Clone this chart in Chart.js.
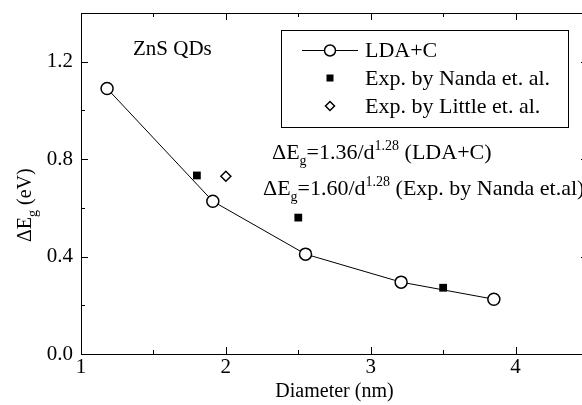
<!DOCTYPE html>
<html>
<head>
<meta charset="utf-8">
<script src="https://cdn.jsdelivr.net/npm/chart.js@4.4.0/dist/chart.umd.min.js"></script>
<style>
  html, body { margin: 0; padding: 0; background: #fff; overflow: hidden; }
  #wrap { width: 582px; height: 405px; overflow: hidden; position: relative; }
  #pre { position: absolute; left: -1000px; top: 0; font-family: "Liberation Serif"; font-size: 20px; }
</style>
</head>
<body>
<div id="pre">ΔE Diameter 1.2</div>
<div id="wrap"><canvas id="c" width="600" height="405" style="width:600px;height:405px"></canvas></div>
<script>
// datos
const ldaDiam = [1.18, 1.91, 2.55, 3.21, 3.85];
const ldaGap = [1.09, 0.627, 0.41, 0.295, 0.225];
const nandaDiam = [1.8, 2.5, 3.5];
const nandaGap = [0.733, 0.56, 0.272];
const littleDiam = [2.0];
const littleGap = [0.73];
const xTicks = [1, 1.5, 2, 2.5, 3, 3.5, 4, 4.5];
const yTicks = [0, 0.2, 0.4, 0.6, 0.8, 1.0, 1.2, 1.4];
const legendLabels = ['LDA+C', 'Exp. by Nanda et. al.', 'Exp. by Little et. al.'];

const serif = '"Liberation Serif", "Times New Roman", serif';
const pts = (xs, ys) => xs.map((x, i) => ({ x: x, y: ys[i] }));

// texto con subindices / superindices
function richText(ctx, x, y, parts, size) {
    let cx = x;
    parts.forEach(p => {
        let s = size, dy = 0;
        if (p.sub) { s = 14; dy = 6; }
        if (p.sup) { s = 14; dy = -9; }
        ctx.font = s + 'px ' + serif;
        ctx.fillText(p.t, cx, y + dy);
        cx += ctx.measureText(p.t).width;
    });
    return cx - x;
}

const decor = {
    id: 'decor',
    afterDraw(chart) {
        const ctx = chart.ctx;
        const a = chart.chartArea;
        const xs = chart.scales.x, ys = chart.scales.y;
        ctx.save();
        ctx.strokeStyle = '#000';
        ctx.fillStyle = '#000';
        ctx.lineWidth = 1;

        // marco superior y derecho
        ctx.beginPath();
        ctx.moveTo(Math.round(a.left) + 0.5, Math.round(a.top) + 0.5);
        ctx.lineTo(Math.round(a.right) + 0.5, Math.round(a.top) + 0.5);
        ctx.lineTo(Math.round(a.right) + 0.5, Math.round(a.bottom) + 0.5);
        ctx.stroke();

        // ticks hacia adentro
        ctx.beginPath();
        xTicks.forEach(v => {
            const px = Math.round(xs.getPixelForValue(v)) + 0.5;
            const len = Number.isInteger(v) ? 7 : 4;
            ctx.moveTo(px, a.bottom); ctx.lineTo(px, a.bottom - len);
            ctx.moveTo(px, a.top); ctx.lineTo(px, a.top + len);
        });
        yTicks.forEach(v => {
            const py = Math.round(ys.getPixelForValue(v)) + 0.5;
            const len = Math.round(v * 10) % 4 === 0 ? 7 : 4;
            ctx.moveTo(a.left, py); ctx.lineTo(a.left + len, py);
            ctx.moveTo(a.right, py); ctx.lineTo(a.right - len, py);
        });
        ctx.stroke();

        // leyenda
        ctx.strokeRect(281.5, 30.5, 287, 97);
        const rows = [50, 78, 106];
        const ix = 330;
        ctx.beginPath();
        ctx.moveTo(302, rows[0] + 0.5); ctx.lineTo(358, rows[0] + 0.5);
        ctx.stroke();
        ctx.beginPath();
        ctx.fillStyle = '#fff';
        ctx.arc(ix, rows[0] + 0.5, 5.5, 0, Math.PI * 2);
        ctx.fill();
        ctx.lineWidth = 1.5;
        ctx.stroke();
        ctx.fillStyle = '#000';
        ctx.fillRect(ix - 3.5, rows[1] - 3.5, 7, 7);
        ctx.beginPath();
        ctx.moveTo(ix, rows[2] - 4.5); ctx.lineTo(ix + 4.5, rows[2]);
        ctx.lineTo(ix, rows[2] + 4.5); ctx.lineTo(ix - 4.5, rows[2]);
        ctx.closePath();
        ctx.stroke();
        ctx.lineWidth = 1;

        ctx.textBaseline = 'alphabetic';
        ctx.textAlign = 'left';
        ctx.font = '22px ' + serif;
        legendLabels.forEach((t, i) => ctx.fillText(t, 365, rows[i] + 7));

        // etiquetas
        ctx.font = '21px ' + serif;
        ctx.fillText('ZnS QDs', 133, 55);
        richText(ctx, 272, 159, [{ t: 'ΔE' }, { t: 'g', sub: true }, { t: '=1.36/d' }, { t: '1.28', sup: true }, { t: ' (LDA+C)' }], 22);
        richText(ctx, 263, 195, [{ t: 'ΔE' }, { t: 'g', sub: true }, { t: '=1.60/d' }, { t: '1.28', sup: true }, { t: ' (Exp. by Nanda et.al)' }], 22);

        // titulos de ejes
        ctx.font = '20px ' + serif;
        ctx.textAlign = 'center';
        ctx.fillText('Diameter (nm)', (a.left + a.right) / 2, 397);
        ctx.textAlign = 'left';
        ctx.save();
        ctx.translate(31, 242);
        ctx.rotate(-Math.PI / 2);
        richText(ctx, 0, 0, [{ t: 'ΔE' }, { t: 'g', sub: true }, { t: ' (eV)' }], 20);
        ctx.restore();

        ctx.restore();
    }
};

function draw() {
    new Chart(document.getElementById('c'), {
        type: 'scatter',
        data: {
            datasets: [{
                label: legendLabels[0],
                data: pts(ldaDiam, ldaGap),
                showLine: true,
                borderColor: '#000',
                borderWidth: 1,
                pointStyle: 'circle',
                pointRadius: 6,
                pointBorderWidth: 1.5,
                pointBackgroundColor: '#fff',
                pointBorderColor: '#000',
                tension: 0
            }, {
                label: legendLabels[1],
                data: pts(nandaDiam, nandaGap),
                pointStyle: 'rect',
                pointRadius: 5.5,
                pointBorderWidth: 0,
                pointBackgroundColor: '#000',
                pointBorderColor: '#000'
            }, {
                label: legendLabels[2],
                data: pts(littleDiam, littleGap),
                pointStyle: 'rectRot',
                pointRadius: 5,
                pointBorderWidth: 1.5,
                pointBackgroundColor: '#fff',
                pointBorderColor: '#000'
            }]
        },
        options: {
            responsive: false,
            animation: false,
            layout: { padding: { top: 13, right: 12, left: 0, bottom: 0 } },
            plugins: { legend: { display: false }, tooltip: { enabled: false } },
            scales: {
                x: {
                    type: 'linear',
                    min: 1, max: 4.5,
                    afterFit: s => { s.height = 51; s.paddingLeft = 0; s.paddingRight = 0; },
                    grid: { display: false, drawTicks: false },
                    border: { display: true, color: '#000', width: 1 },
                    afterBuildTicks: s => { s.ticks = xTicks.map(v => ({ value: v })); },
                    ticks: {
                        autoSkip: false,
                        maxRotation: 0,
                        padding: 1,
                        color: '#000',
                        font: { family: serif, size: 21 },
                        callback: v => Number.isInteger(v) ? String(v) : ''
                    }
                },
                y: {
                    type: 'linear',
                    min: 0, max: 1.4,
                    afterFit: s => { s.width = 81; s.paddingTop = 0; s.paddingBottom = 0; },
                    grid: { display: false, drawTicks: false },
                    border: { display: true, color: '#000', width: 1 },
                    afterBuildTicks: s => { s.ticks = yTicks.map(v => ({ value: v })); },
                    ticks: {
                        autoSkip: false,
                        padding: 8,
                        color: '#000',
                        font: { family: serif, size: 21 },
                        callback: v => Math.round(v * 10) % 4 === 0 ? v.toFixed(1) : ''
                    }
                }
            }
        },
        plugins: [decor]
    });
}

if (document.fonts && document.fonts.load) {
    document.fonts.load('20px "Liberation Serif"').then(draw, draw);
} else {
    draw();
}
</script>
</body>
</html>
